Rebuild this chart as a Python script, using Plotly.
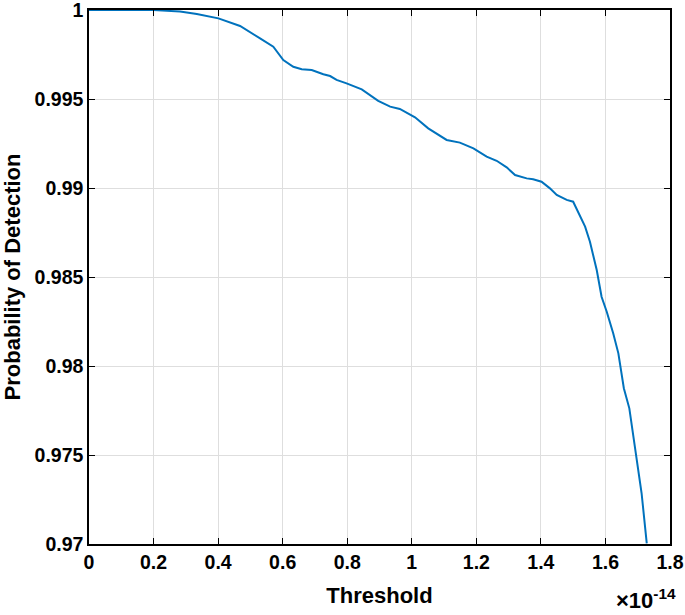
import plotly.graph_objects as go

threshold = [0.0, 0.019, 0.2, 0.282, 0.334, 0.401, 0.468, 0.530, 0.571, 0.602, 0.633, 0.659,
             0.690, 0.726, 0.747, 0.767, 0.798, 0.845, 0.896, 0.933, 0.963, 1.010, 1.051,
             1.108, 1.149, 1.191, 1.232, 1.263, 1.294, 1.320, 1.356, 1.376, 1.402, 1.428,
             1.449, 1.480, 1.500, 1.537, 1.552, 1.573, 1.588, 1.604, 1.624, 1.640, 1.657,
             1.674, 1.691, 1.712, 1.728]
pd_values = [1.0, 1.0, 1.0, 0.99991, 0.99978, 0.99953, 0.99910, 0.99841, 0.99794, 0.99719,
             0.99681, 0.99667, 0.99663, 0.99639, 0.99629, 0.99607, 0.99588, 0.99554, 0.99490,
             0.99457, 0.99444, 0.99397, 0.99335, 0.99270, 0.99255, 0.99223, 0.99176, 0.99153,
             0.99116, 0.99073, 0.99054, 0.99049, 0.99035, 0.98998, 0.98961, 0.98933, 0.98923,
             0.98783, 0.98698, 0.98539, 0.98389, 0.98305, 0.98184, 0.98071, 0.97875, 0.97762,
             0.97547, 0.97285, 0.97004]

x_ticks = [0, 0.2, 0.4, 0.6, 0.8, 1.0, 1.2, 1.4, 1.6, 1.8]
x_tick_labels = ["0", "0.2", "0.4", "0.6", "0.8", "1", "1.2", "1.4", "1.6", "1.8"]
y_ticks = [0.97, 0.975, 0.98, 0.985, 0.99, 0.995, 1.0]
y_tick_labels = ["0.97", "0.975", "0.98", "0.985", "0.99", "0.995", "1"]

FONT = "Liberation Sans"

fig = go.Figure()
fig.add_trace(go.Scatter(x=threshold, y=pd_values, mode="lines",
                         line=dict(color="#0072BD", width=2), showlegend=False,
                         cliponaxis=True))

axis_common = dict(showline=True, linecolor="black", linewidth=1.5, mirror="ticks",
                   ticks="inside", ticklen=6, tickcolor="black", tickwidth=1,
                   showgrid=True, gridcolor="#dedede", gridwidth=1, zeroline=False,
                   automargin=False, ticklabeloverflow="allow",
                   tickfont=dict(family=FONT, size=19.5, color="black", weight="bold"))

fig.update_xaxes(range=[0, 1.8], tickvals=x_ticks, ticktext=x_tick_labels,
                 title=dict(text="<b>Threshold</b>", font=dict(family=FONT, size=22, color="black"),
                            standoff=15),
                 **axis_common)
fig.update_yaxes(range=[0.97, 1.0], tickvals=y_ticks, ticktext=y_tick_labels,
                 title=dict(text="<b>Probability of Detection</b>", font=dict(family=FONT, size=22, color="black"),
                            standoff=10),
                 **axis_common)

fig.add_annotation(x=1.0138, xref="paper", y=-0.103, yref="paper", xanchor="right", yanchor="middle",
                   text="<b>×10<sup>-14</sup></b>", showarrow=False,
                   font=dict(family=FONT, size=22, color="black"))

fig.update_layout(width=685, height=615, paper_bgcolor="white", plot_bgcolor="white",
                  margin=dict(l=89, r=15, t=10, b=71, autoexpand=False))

fig.write_html("out.html", config={"displayModeBar": False},
               post_script="document.body.style.margin='0';")
